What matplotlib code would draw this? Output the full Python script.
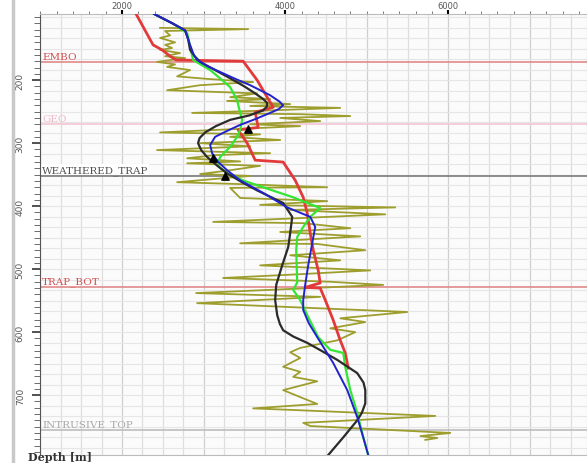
import matplotlib.pyplot as plt
import numpy as np
from matplotlib.ticker import MultipleLocator, FixedLocator

# velocity logs vs depth (m/s, m)
red_d = [95, 144, 152, 162, 168, 170, 200, 227, 243, 251, 275, 279, 300, 327, 330, 359, 386, 411,
         443, 470, 502, 522, 529, 530, 549, 581, 613, 633, 657]
red_v = [2172, 2380, 2491, 2589, 2663, 3485, 3656, 3779, 3853, 3632, 3669, 3423, 3534, 3632, 3975,
         4123, 4221, 4270, 4307, 4344, 4405, 4429, 4245, 4429, 4491, 4589, 4675, 4736, 4773]

blue_d = [95, 110, 121, 135, 144, 160, 168, 178, 187, 198, 208, 224, 234, 240, 246, 252, 262, 271,
          281, 290, 303, 316, 330, 343, 359, 379, 402, 417, 433, 459, 494, 525, 549, 565, 586, 608,
          649, 692, 735, 767, 795]
blue_v = [2393, 2620, 2773, 2810, 2834, 2880, 2920, 3050, 3202, 3390, 3571, 3816, 3930, 3975, 3920,
          3816, 3630, 3448, 3280, 3141, 3080, 3104, 3180, 3288, 3448, 3730, 4025, 4307, 4368, 4331,
          4282, 4245, 4221, 4221, 4290, 4393, 4589, 4761, 4883, 4957, 5018]

black_d = [95, 110, 121, 135, 152, 162, 171, 184, 197, 210, 221, 230, 236, 242, 248, 256, 263, 273,
           283, 292, 300, 311, 322, 335, 348, 362, 375, 395, 417, 443, 465, 494, 525, 549, 573, 587,
           597, 607, 617, 630, 644, 665, 680, 692, 713, 728, 740, 767, 795]
black_v = [2393, 2620, 2773, 2810, 2834, 2890, 2957, 3140, 3325, 3500, 3632, 3730, 3779, 3775, 3730,
           3560, 3325, 3150, 3018, 2950, 2932, 2970, 3043, 3160, 3288, 3470, 3656, 3975, 4086, 4061,
           4037, 3963, 3890, 3877, 3902, 3935, 3975, 4100, 4270, 4450, 4638, 4883, 4960, 4982, 4982,
           4940, 4883, 4712, 4528]

green_d = [95, 110, 125, 150, 168, 184, 198, 211, 232, 252, 263, 278, 290, 306, 322, 335, 348, 360,
           370, 386, 403, 417, 433, 449, 470, 521, 533, 549, 576, 608, 628, 633, 655, 692, 728, 767, 795]
green_v = [2393, 2620, 2798, 2840, 2871, 3080, 3210, 3325, 3411, 3448, 3472, 3450, 3411, 3325, 3202,
           3166, 3288, 3500, 3730, 4098, 4429, 4307, 4221, 4147, 4135, 4147, 4098, 4184, 4282, 4405,
           4552, 4712, 4736, 4798, 4883, 4957, 5018]

sonic_d = [117, 119, 122, 129, 133, 140, 144, 149, 152, 157, 162, 165, 171, 175, 179, 184, 194, 198,
           203, 208, 216, 221, 227, 230, 233, 238, 241, 244, 248, 252, 254, 257, 260, 265, 270, 273,
           283, 286, 290, 295, 300, 305, 311, 316, 319, 324, 329, 332, 336, 343, 349, 352, 362, 365,
           370, 371, 387, 392, 398, 402, 406, 413, 425, 427, 435, 441, 448, 459, 460, 470, 478, 486,
           494, 502, 508, 514, 520, 525, 538, 544, 554, 568, 578, 584, 594, 600, 613, 625, 632, 641,
           655, 663, 671, 678, 692, 705, 714, 721, 724, 733, 744, 749, 760, 765, 768, 771]
sonic_v = [2466, 3546, 2528, 2589, 2466, 2650, 2528, 2613, 2466, 2712, 2528, 2773, 2429, 2650, 2552,
           2834, 2675, 3043, 3607, 2957, 2552, 3656, 3325, 3816, 3288, 4061, 3571, 4675, 3816, 2859,
           4184, 4798, 3939, 4429, 3571, 4184, 2466, 3693, 3325, 3939, 2957, 3571, 2429, 3816, 3141,
           2798, 3448, 2798, 3693, 3325, 2957, 3571, 2675, 3448, 4515, 3325, 3448, 4515, 3693, 5350,
           4061, 5227, 3117, 4221, 4798, 3939, 4920, 3448, 4393, 4982, 4061, 4675, 3693, 5043, 4184,
           3239, 4552, 5202, 2908, 4429, 2920, 5497, 4675, 4982, 4552, 4859, 4638, 4184, 4061, 4184,
           3975, 4184, 4098, 4393, 3975, 4221, 4393, 3607, 4184, 5840, 4221, 4307, 6025, 5657, 5865, 5718]

# picks on the black curve
pick_d = [278, 324, 352]
pick_v = [3546, 3117, 3264]

# horizons
hz_names = ["EMBO", "GEO", "WEATHERED_TRAP", "TRAP_BOT", "INTRUSIVE_TOP"]
hz_depth = [171, 270, 352, 529, 756]
hz_line = ["#e08a8a", "#f3c6d2", "#7a7a7a", "#e08a8a", "#bdbdbd"]
hz_text = ["#d05050", "#f0b8c8", "#505050", "#d05050", "#a8a8a8"]

depth_ticks = [200, 300, 400, 500, 600, 700]

fig = plt.figure(figsize=(5.87, 4.64), dpi=100)
fig.patch.set_facecolor("white")
ax = fig.add_axes([40/587, 1-456/464, 1-40/587, 441/464])
ax.set_facecolor("#fbfbfb")

ax.set_xlim(994, 7700)
ax.set_ylim(795, 95)

# grid
for xv in np.arange(1000, 7701, 250):
    c = "#cfcfcf" if xv % 1000 == 0 else "#dedede"
    ax.axvline(xv, color=c, lw=0.9, zorder=0)
for yv in np.arange(0, 800, 100/6):
    ax.axhline(yv, color="#e6e6e6", lw=0.8, zorder=0)

for name, d, lc, tc in zip(hz_names, hz_depth, hz_line, hz_text):
    ax.axhline(d, color=lc, lw=1.2, zorder=1)
    bg = dict(facecolor="white", edgecolor="none", pad=0.5) if name == "WEATHERED_TRAP" else None
    ax.text(1020, d - 2, name, color=tc, fontsize=7.5, family="DejaVu Serif",
            va="bottom", ha="left", zorder=2, bbox=bg)

ax.plot(sonic_v, sonic_d, color="#9e9e2e", lw=1.3, zorder=3)
ax.plot(red_v, red_d, color="#e23a3a", lw=2.0, zorder=4)
ax.plot(green_v, green_d, color="#33e633", lw=1.6, zorder=5)
ax.plot(black_v, black_d, color="#2b2b2b", lw=1.6, zorder=6)
ax.plot(blue_v, blue_d, color="#2222cc", lw=1.4, zorder=7)
ax.scatter(pick_v, pick_d, marker="^", s=28, color="black", zorder=8)

# axes styling
ax.xaxis.tick_top()
ax.xaxis.set_major_locator(MultipleLocator(2000))
ax.xaxis.set_minor_locator(MultipleLocator(200))
ax.tick_params(axis="x", which="major", length=3, width=1.5, color="black",
               labelsize=6, labelcolor="#555555", pad=0)
ax.tick_params(axis="x", which="minor", length=2, color="#666666")
ax.yaxis.set_major_locator(FixedLocator(depth_ticks))
ax.yaxis.set_minor_locator(MultipleLocator(10))
ax.tick_params(axis="y", which="major", length=6, width=1.2, color="#333333",
               labelsize=6.5, labelcolor="#555555", pad=5)
ax.tick_params(axis="y", which="minor", length=4, color="#555555")
for lab in ax.get_yticklabels():
    lab.set_rotation(90)
    lab.set_va("center")
for side in ["top", "right", "bottom"]:
    ax.spines[side].set_color("#bbbbbb")
ax.spines["left"].set_color("#555555")

fig.add_artist(plt.Line2D([13/587, 13/587], [0, 1], color="#c8c8c8", lw=2.5))
fig.text(28/587, 1/464, "Depth [m]", fontsize=8, fontweight="bold", family="DejaVu Serif",
         color="#333333", va="bottom", zorder=10)

fig.savefig("out.png", dpi=100)
